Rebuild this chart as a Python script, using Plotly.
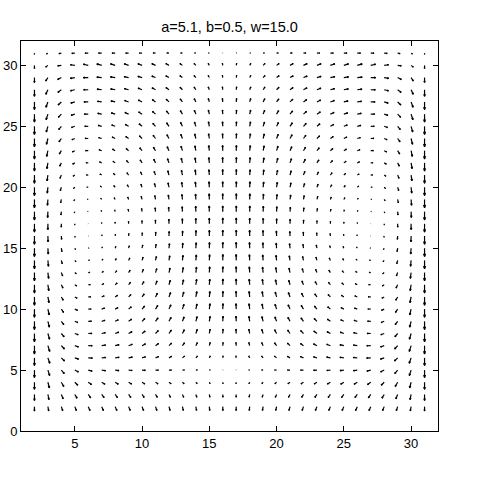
import numpy as np
import plotly.graph_objects as go

title_text = "a=5.1, b=0.5, w=15.0"

# grid of arrow origins
x_grid = list(range(2, 32))
y_grid = list(range(2, 32))

# column profiles read for the left half (x = 2..16); right half is the mirror image
xu_left = [0.0, 0.45, 0.75, 0.92, 1.0, 1.0, 0.97, 0.92, 0.85, 0.76, 0.65, 0.52, 0.38, 0.23, 0.08]
wall_left = [1.0, 0.7, 0.4, 0.17, 0.05, 0, 0, 0, 0, 0, 0, 0, 0, 0, 0]
core_left = [0, 0, 0, 0.03, 0.1, 0.2, 0.3, 0.42, 0.55, 0.67, 0.78, 0.87, 0.94, 0.98, 1.0]

# row profiles (y = 2..31)
yu = [1.6, 2.2, 3.0, 3.6, 3.8, 3.7, 3.4, 3.0, 2.7, 2.3, 1.9, 1.5, 1.1, 0.7, 0.3,
      -0.1, -0.5, -0.9, -1.3, -1.7, -2.1, -2.5, -2.9, -3.3, -3.7, -4.0, -4.3, -4.5, -4.5, -3.0]
v_wall = [-0.5, -2.5, -4.5, -6.0, -7.0, -7.5, -7.5, -7.5, -7.5, -7.5, -7.6, -7.6, -7.6, -7.6, -7.6,
          -7.6, -7.6, -7.6, -7.6, -7.5, -7.5, -7.5, -7.5, -7.4, -7.3, -7.0, -6.0, -4.5, -4.0, -1.0]
v_core = [0.0, 0.5, 0.8, 1.0, 1.8, 3.0, 4.0, 4.6, 5.0, 5.1, 5.2, 5.3, 5.3, 5.3, 5.3,
          5.3, 5.2, 5.2, 5.1, 5.0, 4.9, 4.7, 4.4, 4.1, 3.7, 3.2, 2.6, 2.0, 0.6, 0.3]
v_band = [-3.5, -3.0, -2.0, -0.8, 0, 0, 0, 0, 0, 0, 0, 0, 0, 0, 0,
          0, 0, 0, 0, 0, 0, 0, 0, 0, 0, 0, 0, 0, 1.2, 0]

# full-width column profiles
xu_full = xu_left + [-v for v in xu_left[::-1]]
wall_full = wall_left + wall_left[::-1]
core_full = core_left + core_left[::-1]

X, Y = np.meshgrid(x_grid, y_grid)
U = np.outer(yu, xu_full)
V = np.outer(v_wall, wall_full) + np.outer(v_core, core_full) + np.array(v_band)[:, None]

# quiver scaling (values are roughly screen pixels)
gain = 1.1
sx = gain / 13.55
sy = gain / 12.2
alpha, beta = 0.33, 0.33

xs, ys = [], []
for xi, yi, ui, vi in zip(X.ravel(), Y.ravel(), U.ravel(), V.ravel()):
    du, dv = ui * sx, vi * sy
    xs += [xi, xi + du, None]
    ys += [yi, yi + dv, None]
    hx = [xi + du - alpha * (du + beta * (dv + 1e-12)), xi + du,
          xi + du - alpha * (du - beta * (dv + 1e-12))]
    hy = [yi + dv - alpha * (dv - beta * (du + 1e-12)), yi + dv,
          yi + dv - alpha * (dv + beta * (du + 1e-12))]
    xs += hx + [None]
    ys += hy + [None]

fig = go.Figure(go.Scatter(x=xs, y=ys, mode="lines",
                           line=dict(color="black", width=1.2), hoverinfo="skip"))

fig.update_layout(
    width=485, height=485,
    margin=dict(l=21, r=47, t=41, b=54, autoexpand=False),
    plot_bgcolor="white", paper_bgcolor="white",
    showlegend=False,
    font=dict(family="Liberation Sans, Arial, sans-serif", size=13, color="black"),
    title=dict(text=title_text, x=0.5, xref="paper", xanchor="center",
               y=1 - 27 / 485, yref="container", yanchor="middle",
               font=dict(size=14.5, color="black"), automargin=False),
)
axis_common = dict(showgrid=False, zeroline=False, showline=True, linecolor="black",
                   linewidth=1, mirror="ticks", ticks="inside", ticklen=5,
                   tickcolor="black", tickfont=dict(size=13, color="black"),
                   automargin=False)
fig.update_xaxes(range=[1, 32], tickvals=[5, 10, 15, 20, 25, 30], **axis_common)
fig.update_yaxes(range=[0, 32], tickvals=[0, 5, 10, 15, 20, 25, 30], **axis_common)

fig.write_html("out.html",
               config={"displayModeBar": False},
               post_script="document.body.style.margin='0';document.body.style.overflow='hidden';")
